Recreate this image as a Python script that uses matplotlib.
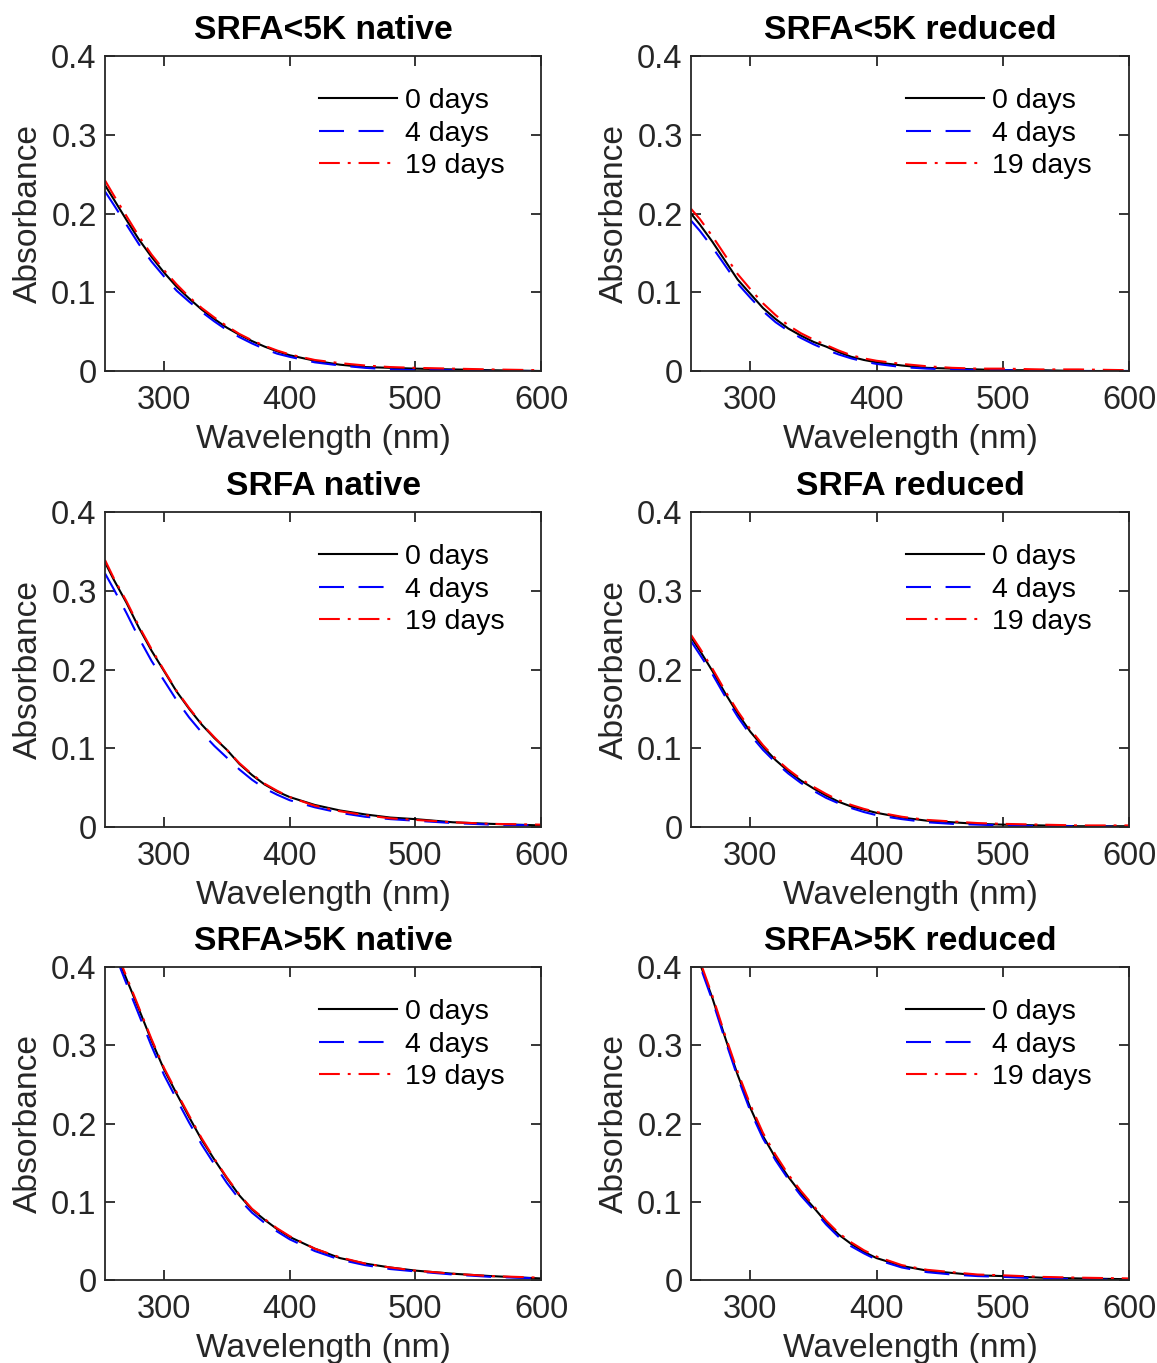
import matplotlib
matplotlib.use("Agg")
import matplotlib.pyplot as plt

plt.rcParams['font.family'] = ['Liberation Sans', 'DejaVu Sans']

# Shared wavelength grid (nm)
wavelength = [253, 260, 270, 280, 290, 300, 310, 320, 330, 340, 350, 360, 370,
              380, 390, 400, 420, 440, 460, 480, 500, 530, 560, 600]

day_labels = ['0 days', '4 days', '19 days']

# SRFA<5K native
lt5k_native_0d = [0.236, 0.218, 0.192, 0.167, 0.145, 0.125, 0.107, 0.092, 0.078, 0.066, 0.055, 0.046, 0.038,
                  0.031, 0.025, 0.020, 0.013, 0.008, 0.005, 0.004, 0.003, 0.002, 0.001, 0.000]
lt5k_native_4d = [0.228, 0.211, 0.186, 0.161, 0.139, 0.120, 0.102, 0.088, 0.075, 0.063, 0.052, 0.043, 0.035,
                  0.028, 0.022, 0.018, 0.011, 0.007, 0.004, 0.002, 0.001, 0.001, 0.000, 0.000]
lt5k_native_19d = [0.242, 0.223, 0.197, 0.171, 0.148, 0.128, 0.110, 0.094, 0.080, 0.068, 0.057, 0.047, 0.039,
                   0.032, 0.026, 0.021, 0.014, 0.010, 0.007, 0.005, 0.004, 0.003, 0.002, 0.001]

# SRFA<5K reduced
lt5k_reduced_0d = [0.200, 0.186, 0.164, 0.140, 0.116, 0.098, 0.080, 0.066, 0.054, 0.045, 0.037, 0.031, 0.024,
                   0.018, 0.014, 0.011, 0.007, 0.004, 0.003, 0.002, 0.001, 0.001, 0.000, 0.000]
lt5k_reduced_4d = [0.191, 0.178, 0.157, 0.134, 0.111, 0.093, 0.076, 0.062, 0.051, 0.042, 0.034, 0.027, 0.021,
                   0.016, 0.012, 0.009, 0.005, 0.003, 0.002, 0.001, 0.001, 0.000, 0.000, 0.000]
lt5k_reduced_19d = [0.206, 0.193, 0.171, 0.147, 0.123, 0.104, 0.086, 0.071, 0.058, 0.048, 0.040, 0.033, 0.026,
                    0.020, 0.016, 0.013, 0.009, 0.006, 0.004, 0.003, 0.003, 0.002, 0.002, 0.001]

# SRFA native
srfa_native_0d = [0.336, 0.314, 0.285, 0.253, 0.224, 0.198, 0.172, 0.150, 0.130, 0.113, 0.098, 0.080, 0.066,
                  0.054, 0.045, 0.038, 0.028, 0.021, 0.016, 0.012, 0.010, 0.006, 0.004, 0.002]
srfa_native_4d = [0.322, 0.302, 0.272, 0.240, 0.211, 0.186, 0.161, 0.139, 0.120, 0.103, 0.088, 0.073, 0.060,
                  0.049, 0.041, 0.034, 0.025, 0.018, 0.013, 0.010, 0.008, 0.005, 0.003, 0.002]
srfa_native_19d = [0.339, 0.316, 0.287, 0.255, 0.226, 0.199, 0.173, 0.151, 0.131, 0.114, 0.098, 0.081, 0.067,
                   0.055, 0.046, 0.038, 0.027, 0.020, 0.015, 0.011, 0.009, 0.006, 0.004, 0.003]

# SRFA reduced
srfa_reduced_0d = [0.241, 0.224, 0.198, 0.170, 0.144, 0.121, 0.102, 0.085, 0.071, 0.059, 0.049, 0.040, 0.032,
                   0.026, 0.022, 0.018, 0.012, 0.008, 0.006, 0.004, 0.003, 0.002, 0.001, 0.001]
srfa_reduced_4d = [0.236, 0.219, 0.194, 0.166, 0.140, 0.117, 0.098, 0.082, 0.068, 0.056, 0.046, 0.037, 0.030,
                   0.024, 0.019, 0.015, 0.010, 0.006, 0.004, 0.003, 0.002, 0.001, 0.001, 0.000]
srfa_reduced_19d = [0.244, 0.227, 0.201, 0.173, 0.147, 0.124, 0.104, 0.087, 0.073, 0.061, 0.051, 0.042, 0.034,
                    0.028, 0.023, 0.019, 0.013, 0.009, 0.007, 0.005, 0.004, 0.003, 0.002, 0.002]

# SRFA>5K native
gt5k_native_0d = [0.460, 0.425, 0.385, 0.346, 0.306, 0.269, 0.238, 0.208, 0.179, 0.154, 0.130, 0.108, 0.090,
                  0.077, 0.065, 0.055, 0.040, 0.028, 0.021, 0.016, 0.012, 0.008, 0.005, 0.002]
gt5k_native_4d = [0.455, 0.420, 0.379, 0.339, 0.299, 0.262, 0.231, 0.201, 0.173, 0.148, 0.124, 0.103, 0.086,
                  0.073, 0.062, 0.052, 0.037, 0.026, 0.019, 0.014, 0.011, 0.007, 0.004, 0.002]
gt5k_native_19d = [0.463, 0.428, 0.388, 0.348, 0.308, 0.271, 0.240, 0.210, 0.181, 0.155, 0.131, 0.109, 0.091,
                   0.078, 0.066, 0.056, 0.040, 0.029, 0.021, 0.016, 0.012, 0.008, 0.005, 0.003]

# SRFA>5K reduced
gt5k_reduced_0d = [0.445, 0.405, 0.360, 0.310, 0.262, 0.220, 0.184, 0.156, 0.132, 0.111, 0.093, 0.074, 0.058,
                   0.046, 0.036, 0.028, 0.018, 0.012, 0.009, 0.006, 0.005, 0.003, 0.002, 0.001]
gt5k_reduced_4d = [0.442, 0.402, 0.357, 0.307, 0.259, 0.216, 0.181, 0.153, 0.129, 0.108, 0.090, 0.071, 0.055,
                   0.043, 0.034, 0.026, 0.016, 0.010, 0.007, 0.005, 0.004, 0.002, 0.001, 0.000]
gt5k_reduced_19d = [0.447, 0.408, 0.363, 0.313, 0.266, 0.224, 0.188, 0.160, 0.135, 0.114, 0.095, 0.076, 0.060,
                    0.048, 0.038, 0.030, 0.019, 0.013, 0.010, 0.007, 0.006, 0.004, 0.003, 0.002]

titles = ['SRFA<5K native', 'SRFA<5K reduced', 'SRFA native', 'SRFA reduced',
          'SRFA>5K native', 'SRFA>5K reduced']
panel_series = [
    (lt5k_native_0d, lt5k_native_4d, lt5k_native_19d),
    (lt5k_reduced_0d, lt5k_reduced_4d, lt5k_reduced_19d),
    (srfa_native_0d, srfa_native_4d, srfa_native_19d),
    (srfa_reduced_0d, srfa_reduced_4d, srfa_reduced_19d),
    (gt5k_native_0d, gt5k_native_4d, gt5k_native_19d),
    (gt5k_reduced_0d, gt5k_reduced_4d, gt5k_reduced_19d),
]

line_styles = [
    dict(color='black', linestyle='-'),
    dict(color='#0000ff', linestyle=(0, (12, 7))),
    dict(color='#ff0000', linestyle=(0, (10, 3.8, 1.4, 3.8))),
]

text_color = '#262626'
W, H = 1157, 1363
fig = plt.figure(figsize=(W / 100, H / 100), dpi=100)

# axes boxes in pixels: (left, right), (top, bottom)
cols = [(105, 541), (691, 1129)]
rows = [(56, 371), (512, 827), (967, 1280)]

for i, (title, series) in enumerate(zip(titles, panel_series)):
    (x0, x1) = cols[i % 2]
    (y0, y1) = rows[i // 2]
    ax = fig.add_axes([x0 / W, 1 - y1 / H, (x1 - x0) / W, (y1 - y0) / H])

    for label, values, style in zip(day_labels, series, line_styles):
        ax.plot(wavelength, values, lw=1.5, label=label, **style)

    ax.set_xlim(253, 600)
    ax.set_ylim(0, 0.4)
    ax.set_xticks([300, 400, 500, 600])
    ax.set_yticks([0, 0.1, 0.2, 0.3, 0.4])
    ax.set_yticklabels(['0', '0.1', '0.2', '0.3', '0.4'])
    ax.tick_params(direction='in', top=True, right=True, length=7, width=1.3,
                   labelsize=23.5, colors=text_color)
    ax.tick_params(axis='x', pad=10)
    ax.tick_params(axis='y', pad=6)
    for sp in ax.spines.values():
        sp.set_color(text_color)
        sp.set_linewidth(1.3)

    ax.set_xlabel('Wavelength (nm)', fontsize=24.2, color=text_color, labelpad=6)
    ax.set_ylabel('Absorbance', fontsize=24.2, color=text_color, labelpad=5)
    ax.set_title(title, fontsize=24.2, fontweight='bold', pad=12)

    ax.legend(loc='upper left', bbox_to_anchor=(0.49, 0.897), frameon=False,
              fontsize=20.5, handlelength=2.75, handletextpad=0.3,
              labelspacing=0.22, borderaxespad=0, borderpad=0)

fig.savefig('out.png', dpi=100)
